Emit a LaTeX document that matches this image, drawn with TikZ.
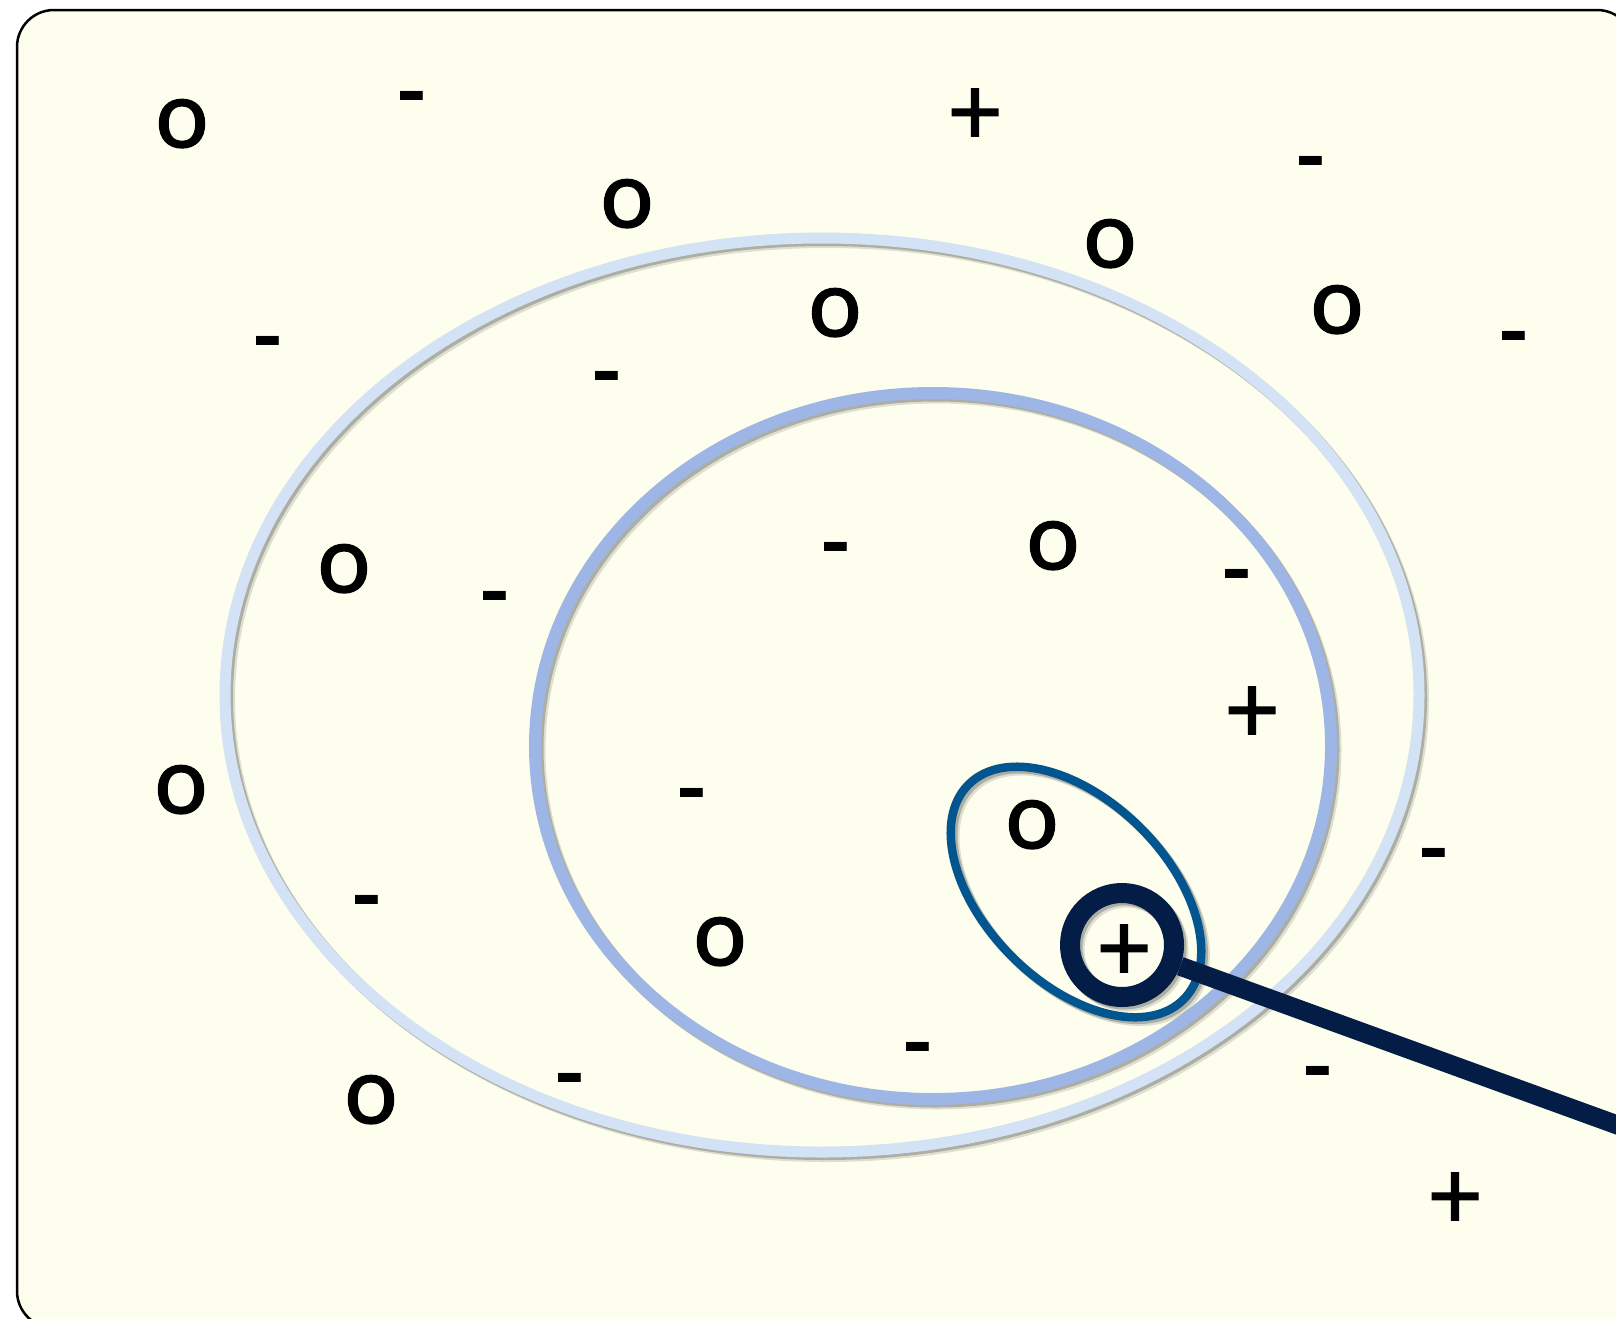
\documentclass[tikz,border=0pt]{standalone}
\usepackage{fontspec}
\setmainfont{Lato}
\newfontfamily\markfont{Lato}[FakeBold=1.6]
\usepackage{tikz}
\usetikzlibrary{shapes.geometric}
\usepackage{xcolor}

\definecolor{paper}{RGB}{253,254,238}
\definecolor{wideblue}{RGB}{211,226,245}
\definecolor{midblue}{RGB}{157,182,230}
\definecolor{nearblue}{RGB}{2,85,143}
\definecolor{lensnavy}{RGB}{4,29,70}

\begin{document}
\begin{tikzpicture}[
    x=0.1mm, y=-0.1mm,
    softshadow/.style={
        preaction={draw=black, draw opacity=0.12, transform canvas={shift={(0.45mm,-0.45mm)}}},
        preaction={draw=black, draw opacity=0.22, transform canvas={shift={(0.25mm,-0.25mm)}}}},
    zone/.style={ellipse, draw=#1, line width=1.1mm, inner sep=0pt, softshadow},
    sym/.style={inner sep=0pt, anchor=mid},
    nilmark/.style={sym, font=\markfont\fontsize{26.5}{26.5}\selectfont},
    negmark/.style={sym, font=\bfseries, yshift=-0.55mm},
    posmark/.style={sym, font=\markfont\fontsize{27}{27}\selectfont, yshift=-0.9mm}
]
\fontsize{25}{25}\selectfont
\useasboundingbox (0,0) rectangle (1616,1318);
\clip (0,0) rectangle (1616,1318);

% board
\draw[fill=paper, line width=0.25mm, rounded corners=3.7mm] (17,10) rectangle (1634,1328);

% nested neighbourhoods
\node[zone=wideblue, minimum width=119.4mm, minimum height=91.4mm] (wide) at (822,695) {};
\node[zone=midblue, line width=1.2mm, minimum width=79.6mm, minimum height=70.6mm] (mid) at (933,746) {};
\node[zone=nearblue, line width=0.85mm, minimum width=30.4mm, minimum height=18.2mm, rotate=-45] (near) at (1076,892) {};

% magnifier
\node[circle, draw=lensnavy, line width=2mm, minimum size=10.4mm, inner sep=0pt, softshadow] (lens) at (1122,945) {};
\coordinate (grip) at (1700,1155);
\draw[lensnavy, line width=1.9mm, softshadow] (lens.-20) -- (grip);

% o points
\node[nilmark] (z1) at (182,125) {o};
\node[nilmark] (z2) at (627,205) {o};
\node[nilmark] (z3) at (1110,245) {o};
\node[nilmark] (z4) at (835,314) {o};
\node[nilmark] (z5) at (1337,311) {o};
\node[nilmark] (z6) at (344,570) {o};
\node[nilmark] (z7) at (1053,547) {o};
\node[nilmark] (z8) at (181,791) {o};
\node[nilmark] (z9) at (1032,826) {o};
\node[nilmark] (z10) at (720,943) {o};
\node[nilmark] (z11) at (371,1101) {o};

% - points
\node[negmark] (n1) at (412,95) {-};
\node[negmark] (n2) at (1311,160) {-};
\node[negmark] (n3) at (268,340) {-};
\node[negmark] (n4) at (607,375) {-};
\node[negmark] (n5) at (1514,335) {-};
\node[negmark] (n6) at (836,546) {-};
\node[negmark] (n7) at (495,595) {-};
\node[negmark] (n8) at (1237,573) {-};
\node[negmark] (n9) at (692,792) {-};
\node[negmark] (n10) at (367,899) {-};
\node[negmark] (n11) at (1434,852) {-};
\node[negmark] (n12) at (918,1046) {-};
\node[negmark] (n13) at (570,1077) {-};
\node[negmark] (n14) at (1318,1070) {-};

% + points
\node[posmark] (p1) at (975,113) {+};
\node[posmark] (p2) at (1252,711) {+};
\node[posmark] (p3) at (1124,949) {+};
\node[posmark] (p4) at (1455,1197) {+};

\end{tikzpicture}
\end{document}
